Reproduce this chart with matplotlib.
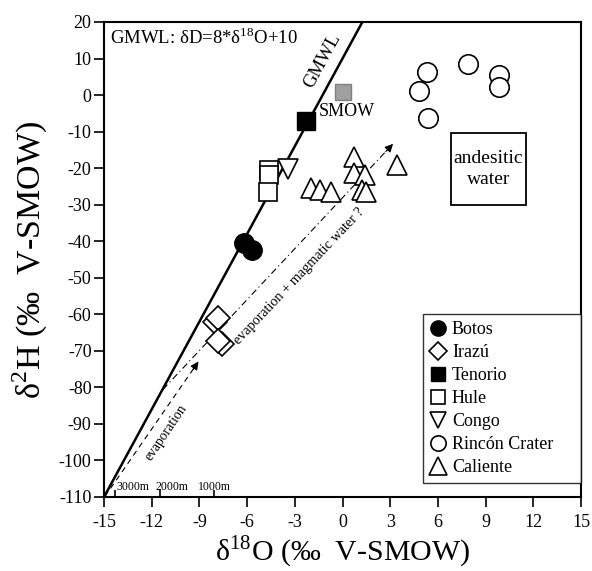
import numpy as np
import matplotlib
matplotlib.use('Agg')
import matplotlib.pyplot as plt
from matplotlib.lines import Line2D
from matplotlib.patches import Rectangle

plt.rcParams['font.family'] = ['Liberation Serif', 'DejaVu Serif']
plt.rcParams['mathtext.fontset'] = 'custom'
plt.rcParams['mathtext.rm'] = 'Liberation Serif'
plt.rcParams['axes.unicode_minus'] = False

# data (d18O, d2H)
botos_x = [-6.2, -5.7]
botos_y = [-40.6, -42.4]
irazu_x = [-8.0, -7.8, -7.6, -7.8]
irazu_y = [-62.2, -61.1, -68.0, -67.3]
tenorio_x = [-2.3]
tenorio_y = [-7.0]
hule_x = [-4.6, -4.65, -4.7]
hule_y = [-20.4, -22.0, -26.4]
congo_x = [-3.4]
congo_y = [-20.2]
rincon_x = [5.3, 4.8, 5.35, 7.9, 9.85, 9.85]
rincon_y = [6.2, 1.1, -6.4, 8.4, 5.5, 2.1]
caliente_x = [-2.0, -1.4, -0.7, 0.7, 0.7, 1.4, 1.2, 1.5, 3.4]
caliente_y = [-25.5, -26.0, -26.4, -16.9, -21.4, -21.9, -26.0, -26.4, -19.1]
smow_x = [0.0]
smow_y = [0.9]

# altitude marks along the x axis
alt_x = [-14.3, -11.5, -8.1]
alt_lbl = ['3000m', '2000m', '1000m']
alt_txt_x = [-14.2, -11.75, -9.1]

# GMWL: dD = 8*d18O + 10
gmwl_x = np.array([-15, 1.25])
gmwl_y = 8 * gmwl_x + 10

fig = plt.figure(figsize=(5.92, 5.71), dpi=100)
ax = fig.add_axes([0.1757, 0.1296, 0.8057, 0.8319])

ax.plot(gmwl_x, gmwl_y, color='k', lw=1.8, zorder=2)
ax.text(-1.25, 9.5, 'GMWL', rotation=61.5, ha='center', va='center', fontsize=13.5)

# evaporation arrow
ax.plot([-14.95, -9.1], [-109.9, -73.2], color='k', lw=0.8, ls=(0, (5, 4)), zorder=1)
ax.annotate('', xy=(-8.96, -72.3), xytext=(-9.5, -75.7),
            arrowprops=dict(arrowstyle='-|>', color='k', lw=0.8, mutation_scale=12))
ax.text(-11.1, -92.5, 'evaporation', rotation=56, ha='center', va='center', fontsize=9.8)

# evaporation + magmatic water arrow
ax.plot([-11.3, 3.1], [-80.6, -13.7], color='k', lw=0.8, ls=(0, (6, 3, 1, 3)), zorder=1)
ax.annotate('', xy=(3.3, -12.8), xytext=(2.6, -16.0),
            arrowprops=dict(arrowstyle='-|>', color='k', lw=0.8, mutation_scale=12))
ax.text(-2.75, -49.6, 'evaporation + magmatic water ?', rotation=46.5, ha='center',
        va='center', fontsize=10.3)

ms = 14
ax.plot(smow_x, smow_y, 's', ms=11, mfc='#a0a0a0', mec='#808080', mew=1, zorder=3)
ax.text(-1.5, -4.6, 'SMOW', ha='left', va='center', fontsize=13)
ax.plot(botos_x, botos_y, 'o', ms=ms, mfc='k', mec='k', zorder=3, ls='none')
ax.plot(irazu_x, irazu_y, 'D', ms=12, mfc='w', mec='k', mew=1.2, zorder=3, ls='none')
ax.plot(tenorio_x, tenorio_y, 's', ms=13, mfc='k', mec='k', zorder=3, ls='none')
ax.plot(hule_x, hule_y, 's', ms=13, mfc='w', mec='k', mew=1.2, zorder=3, ls='none')
ax.plot(congo_x, congo_y, 'v', ms=ms, mfc='w', mec='k', mew=1.2, zorder=3, ls='none')
ax.plot(rincon_x, rincon_y, 'o', ms=ms, mfc='w', mec='k', mew=1.2, zorder=3, ls='none')
for cx, cy in zip(caliente_x, caliente_y):
    ax.plot(cx, cy, '^', ms=15, mfc='w', mec='k', mew=1.2, zorder=3)

# andesitic water box
ax.add_patch(Rectangle((6.8, -30.1), 4.75, 19.8, fill=False, ec='k', lw=1.3, zorder=2))
ax.text(9.17, -20.2, 'andesitic\nwater', ha='center', va='center', fontsize=14,
        linespacing=1.3)

ax.text(-14.6, 15.6, 'GMWL: δD=8*δ$^{18}$O+10', ha='left', va='center', fontsize=13.5)

# altitude ticks
ax.vlines(alt_x, -110, -108, color='k', lw=1.2)
for xx, lbl in zip(alt_txt_x, alt_lbl):
    ax.text(xx, -108.2, lbl, ha='left', va='baseline', fontsize=8.5)

ax.set_xlim(-15, 15)
ax.set_ylim(-110, 20)
ax.set_xticks(np.arange(-15, 16, 3))
ax.set_yticks(np.arange(-110, 21, 10))
ax.tick_params(direction='out', length=7, width=1.2, labelsize=13)
ax.tick_params(axis='x', pad=5)
ax.tick_params(axis='y', pad=2)
for sp in ax.spines.values():
    sp.set_linewidth(1.5)

ax.set_xlabel('δ$^{18}$O (‰  V-SMOW)', fontsize=21.5, labelpad=2)
ax.set_ylabel('δ$^{2}$H (‰  V-SMOW)', fontsize=24.5, labelpad=6.5)

handles = [
    Line2D([], [], marker='o', ls='none', ms=11, mfc='k', mec='k'),
    Line2D([], [], marker='D', ls='none', ms=9.5, mfc='w', mec='k', mew=1.2),
    Line2D([], [], marker='s', ls='none', ms=10, mfc='k', mec='k'),
    Line2D([], [], marker='s', ls='none', ms=10, mfc='w', mec='k', mew=1.2),
    Line2D([], [], marker='v', ls='none', ms=12, mfc='w', mec='k', mew=1.2),
    Line2D([], [], marker='o', ls='none', ms=11, mfc='w', mec='k', mew=1.2),
    Line2D([], [], marker='^', ls='none', ms=13, mfc='w', mec='k', mew=1.2),
]
labels = ['Botos', 'Irazú', 'Tenorio', 'Hule', 'Congo', 'Rincón Crater', 'Caliente']
leg = ax.legend(handles, labels, loc='upper left', bbox_to_anchor=(0.669, 0.0, 0.331, 0.385),
                mode='expand', borderaxespad=0, fontsize=13, frameon=True, fancybox=False,
                handletextpad=0.3, handlelength=0.9, labelspacing=0.33,
                borderpad=0.4)
leg.get_frame().set_edgecolor('k')
leg.get_frame().set_linewidth(1.0)

fig.savefig('out.png', dpi=100)
